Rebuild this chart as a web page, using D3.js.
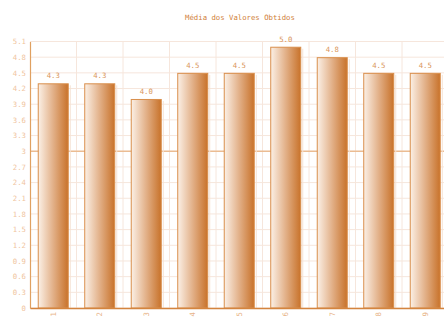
<!DOCTYPE html>
<html>
<head>
<meta charset="utf-8">
<script src="https://cdn.jsdelivr.net/npm/d3@7/dist/d3.min.js"></script>
<style>
  html, body { margin: 0; padding: 0; background: #ffffff; }
  svg { display: block; }
  text { font-family: "DejaVu Sans Mono", "Liberation Mono", monospace; }
</style>
</head>
<body>
<svg id="chart" width="444" height="320"></svg>
<script>
// Chart data
const chartTitle = "Média dos Valores Obtidos";
const categories = ["1", "2", "3", "4", "5", "6", "7", "8", "9"];
const values = [4.3, 4.3, 4.0, 4.5, 4.5, 5.0, 4.8, 4.5, 4.5];
const yTicks = [0, 0.3, 0.6, 0.9, 1.2, 1.5, 1.8, 2.1, 2.4, 2.7, 3, 3.3, 3.6, 3.9, 4.2, 4.5, 4.8, 5.1];
const targetValue = 3;

const svg = d3.select("#chart");
const margin = { left: 30, right: -4.5, top: 41.5, bottom: 12 };
const W = 444, H = 320;

const x = d3.scaleBand()
  .domain(categories)
  .range([margin.left, W - margin.right])
  .paddingInner(0.333)
  .paddingOuter(0.1665);

const y = d3.scaleLinear()
  .domain([0, 5.1])
  .range([H - margin.bottom, margin.top]);

// Bar gradient: light on the left, deep orange on the right
const defs = svg.append("defs");
const grad = defs.append("linearGradient")
  .attr("id", "barGrad")
  .attr("x1", "0%").attr("x2", "100%").attr("y1", "0%").attr("y2", "0%");
grad.append("stop").attr("offset", "0%").attr("stop-color", "#fbf0e6");
grad.append("stop").attr("offset", "50%").attr("stop-color", "#e2b088");
grad.append("stop").attr("offset", "100%").attr("stop-color", "#c8722a");

// Grid
const grid = svg.append("g");
grid.selectAll("line.h")
  .data(yTicks.filter(t => t !== targetValue))
  .join("line")
  .attr("x1", margin.left).attr("x2", W)
  .attr("y1", d => y(d)).attr("y2", d => y(d))
  .attr("stroke", "#f6e6dc").attr("stroke-width", 1);

const step = x.step();
const vLines = d3.range(1, categories.length + 1).map(i => margin.left + i * step);
grid.selectAll("line.v")
  .data(vLines)
  .join("line")
  .attr("x1", d => d).attr("x2", d => d)
  .attr("y1", y(5.1)).attr("y2", y(0))
  .attr("stroke", "#f6e6dc").attr("stroke-width", 1);

// Reference line at 3
svg.append("line")
  .attr("x1", margin.left).attr("x2", W)
  .attr("y1", y(targetValue)).attr("y2", y(targetValue))
  .attr("stroke", "#ebbc92").attr("stroke-width", 1.3);

// Bars
const bars = svg.append("g");
bars.selectAll("line.shadow")
  .data(values)
  .join("line")
  .attr("x1", (d, i) => x(categories[i]) + x.bandwidth() + 1.5)
  .attr("x2", (d, i) => x(categories[i]) + x.bandwidth() + 1.5)
  .attr("y1", d => y(d) + 2)
  .attr("y2", y(0))
  .attr("stroke", "#f5e2d4").attr("stroke-width", 1);

bars.selectAll("rect")
  .data(values)
  .join("rect")
  .attr("x", (d, i) => x(categories[i]) + 0.5)
  .attr("y", d => y(d) + 0.5)
  .attr("width", x.bandwidth() - 1)
  .attr("height", d => y(0) - y(d) - 0.5)
  .attr("fill", "url(#barGrad)")
  .attr("stroke", "#d98f4c")
  .attr("stroke-width", 1);

// Value labels
svg.append("g").selectAll("text")
  .data(values)
  .join("text")
  .attr("x", (d, i) => x(categories[i]) + x.bandwidth() / 2)
  .attr("y", d => y(d) - 5)
  .attr("text-anchor", "middle")
  .attr("font-size", "7.3px")
  .attr("fill", "#d9965a")
  .text(d => d3.format(".1f")(d));

// Y axis
const yAxis = svg.append("g")
  .attr("transform", `translate(${margin.left},0)`)
  .call(d3.axisLeft(y).tickValues(yTicks).tickSize(0).tickPadding(4)
    .tickFormat(d => String(+d.toFixed(1))));
yAxis.select(".domain").attr("stroke", "#e0a060").attr("stroke-width", 1.2);
yAxis.selectAll("text")
  .attr("font-family", "DejaVu Sans Mono, monospace")
  .attr("font-size", "7.3px")
  .attr("fill", "#f0c49e");

// X axis
const xAxis = svg.append("g")
  .attr("transform", `translate(0,${y(0)})`)
  .call(d3.axisBottom(x).tickSize(0).tickPadding(0));
xAxis.select(".domain").attr("stroke", "#d4843e").attr("stroke-width", 1.6);
xAxis.selectAll("text")
  .attr("font-family", "DejaVu Sans Mono, monospace")
  .attr("font-size", "7.3px")
  .attr("fill", "#e8b488")
  .attr("text-anchor", "end")
  .attr("dy", "0.35em")
  .attr("transform", "translate(0,4) rotate(-90)");

// Title
svg.append("text")
  .attr("x", 240)
  .attr("y", 20)
  .attr("text-anchor", "middle")
  .attr("font-size", "7.3px")
  .attr("fill", "#d08038")
  .text(chartTitle);
</script>
</body>
</html>
